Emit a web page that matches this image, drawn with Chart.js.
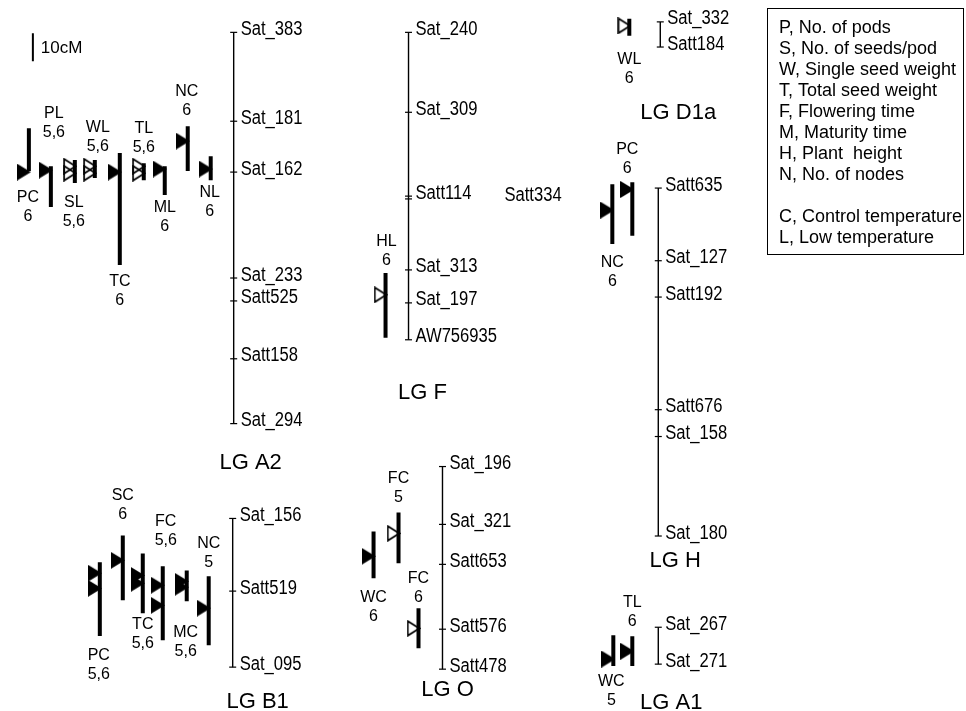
<!DOCTYPE html>
<html>
<head>
<meta charset="utf-8">
<script src="https://cdn.jsdelivr.net/npm/chart.js@4.4.0/dist/chart.umd.min.js"></script>
<style>
  html, body { margin: 0; padding: 0; background: #fff; }
  #wrap { width: 966px; height: 711px; }
</style>
</head>
<body>
<div id="wrap"><canvas id="map"></canvas></div>
<script>
// map scale: 10 cM bar in the corner
const PX_PER_CM = 2.8;

// ---- LG A2
const a2Markers = ['Sat_383', 'Sat_181', 'Sat_162', 'Sat_233', 'Satt525', 'Satt158', 'Sat_294'];
const a2cM = [0, 31.8, 50.0, 87.9, 96.1, 116.8, 140.0];
const a2Traits = ['PC', 'PL', 'SL', 'WL', 'TC', 'TL', 'ML', 'NC', 'NL'];
const a2Years = ['6', '5,6', '5,6', '5,6', '6', '5,6', '6', '6', '6'];
const a2From = [34.3, 47.9, 45.7, 45.7, 43.2, 46.8, 47.9, 33.6, 44.3];
const a2To = [49.6, 62.5, 53.9, 52.1, 83.2, 52.9, 58.2, 49.6, 52.9];
const a2Peaks = [[50.0], [49.3], [47.9, 50.4], [47.9, 50.4], [50.0], [47.9, 50.4], [48.9], [38.9], [48.9]];
const a2Filled = [true, true, false, false, true, false, true, true, true];

// ---- LG F
const fMarkers = ['Sat_240', 'Sat_309', 'Satt114', 'Satt334', 'Sat_313', 'Sat_197', 'AW756935'];
const fcM = [0, 28.6, 58.6, 59.6, 85.0, 96.8, 110.0];
const fTraits = ['HL'];
const fYears = ['6'];
const fFrom = [86.1];
const fTo = [109.3];
const fPeaks = [[93.9]];
const fFilled = [false];

// ---- LG D1a
const d1aMarkers = ['Sat_332', 'Satt184'];
const d1acM = [0, 9.0];
const d1aTraits = ['WL'];
const d1aYears = ['6'];
const d1aFrom = [-1.1];
const d1aTo = [5.0];
const d1aPeaks = [[1.4]];
const d1aFilled = [false];

// ---- LG H
const hMarkers = ['Satt635', 'Sat_127', 'Satt192', 'Satt676', 'Sat_158', 'Sat_180'];
const hcM = [0, 26.0, 39.0, 79.3, 88.9, 124.5];
const hTraits = ['NC', 'PC'];
const hYears = ['6', '6'];
const hFrom = [-1.4, -2.1];
const hTo = [20.0, 17.1];
const hPeaks = [[7.9], [0.5]];
const hFilled = [true, true];

// ---- LG B1
const b1Markers = ['Sat_156', 'Satt519', 'Sat_095'];
const b1cM = [0, 26.0, 53.2];
const b1Traits = ['PC', 'SC', 'TC', 'FC', 'MC', 'NC'];
const b1Years = ['5,6', '6', '5,6', '5,6', '5,6', '5'];
const b1From = [15.7, 6.1, 12.5, 17.1, 18.6, 20.7];
const b1To = [42.1, 29.3, 33.9, 43.6, 29.6, 45.4];
const b1Peaks = [[19.6, 25.0], [15.0], [20.4, 23.2], [23.9, 31.1], [22.5, 24.6], [32.1]];
const b1Filled = [true, true, true, true, true, true];

// ---- LG O
const oMarkers = ['Sat_196', 'Sat_321', 'Satt653', 'Satt576', 'Satt478'];
const ocM = [0, 20.7, 35.0, 58.2, 72.5];
const oTraits = ['FC', 'WC', 'FC'];
const oYears = ['5', '6', '6'];
const oFrom = [16.4, 23.2, 50.7];
const oTo = [34.6, 40.0, 65.0];
const oPeaks = [[23.9], [32.1], [57.9]];
const oFilled = [false, true, false];

// ---- LG A1
const a1Markers = ['Sat_267', 'Sat_271'];
const a1cM = [0, 13.2];
const a1Traits = ['WC', 'TL'];
const a1Years = ['5', '6'];
const a1From = [2.9, 3.2];
const a1To = [13.9, 13.9];
const a1Peaks = [[11.4], [8.6]];
const a1Filled = [true, true];

const legendLines = [
  'P, No. of pods', 'S, No. of seeds/pod', 'W, Single seed weight', 'T, Total seed weight',
  'F, Flowering time', 'M, Maturity time', 'H, Plant  height', 'N, No. of nodes', '',
  'C, Control temperature', 'L, Low temperature'
];

const groups = [
  { id: 'A2', markers: a2Markers, cM: a2cM, traits: a2Traits, years: a2Years, from: a2From, to: a2To, peaks: a2Peaks, filled: a2Filled },
  { id: 'F', markers: fMarkers, cM: fcM, traits: fTraits, years: fYears, from: fFrom, to: fTo, peaks: fPeaks, filled: fFilled },
  { id: 'D1a', markers: d1aMarkers, cM: d1acM, traits: d1aTraits, years: d1aYears, from: d1aFrom, to: d1aTo, peaks: d1aPeaks, filled: d1aFilled },
  { id: 'H', markers: hMarkers, cM: hcM, traits: hTraits, years: hYears, from: hFrom, to: hTo, peaks: hPeaks, filled: hFilled },
  { id: 'B1', markers: b1Markers, cM: b1cM, traits: b1Traits, years: b1Years, from: b1From, to: b1To, peaks: b1Peaks, filled: b1Filled },
  { id: 'O', markers: oMarkers, cM: ocM, traits: oTraits, years: oYears, from: oFrom, to: oTo, peaks: oPeaks, filled: oFilled },
  { id: 'A1', markers: a1Markers, cM: a1cM, traits: a1Traits, years: a1Years, from: a1From, to: a1To, peaks: a1Peaks, filled: a1Filled }
];

// where each linkage group sits on the page (page units of the scales)
const layout = {
  A2: { x: 233, top: 29, title: [250, 460], bars: [28, 50, 74, 94, 119, 143, 164, 187, 210],
        labels: [[27, 195], [53, 110], [73, 200], [97, 124], [119, 279], [143, 125], [164, 205], [186, 88], [209, 190]] },
  F: { x: 408, top: 29, title: [422, 390], bars: [385], labels: [[386, 239]], labelX: { Satt334: 504 } },
  D1a: { x: 660, top: 18.5, title: [678, 110], bars: [629], labels: [[629, 56]] },
  H: { x: 658, top: 185, title: [675, 559], bars: [612, 632], labels: [[612, 260], [627, 146]] },
  B1: { x: 232, top: 516, title: [257, 700], bars: [99, 122, 142, 162, 186, 208],
        labels: [[98, 653], [122, 493], [142, 622], [165, 519], [185, 630], [208, 541]] },
  O: { x: 442, top: 464, title: [447, 688], bars: [398, 373, 418], labels: [[398, 476], [373, 595], [418, 576]] },
  A1: { x: 658, top: 625, title: [671, 701], bars: [613, 632], labels: [[611, 679], [632, 600]] }
};

const yOf = (id, cm) => layout[id].top + cm * PX_PER_CM;

// right-pointing peak triangles, drawn as small canvas images
function makeTriangle(filled) {
  const c = document.createElement('canvas');
  c.width = 14; c.height = 17;
  const g = c.getContext('2d');
  g.beginPath();
  if (filled) {
    g.moveTo(0, 0); g.lineTo(14, 8.5); g.lineTo(0, 17);
    g.closePath();
    g.fillStyle = '#000';
    g.fill();
  } else {
    g.moveTo(1.2, 1.2); g.lineTo(12.8, 8.5); g.lineTo(1.2, 15.8);
    g.closePath();
    g.strokeStyle = '#000';
    g.lineWidth = 1.8;
    g.lineJoin = 'miter';
    g.stroke();
  }
  return c;
}
const triFilled = makeTriangle(true);
const triOpen = makeTriangle(false);

const datasets = [];

// peaks first so they sit on top of the bars
groups.forEach(g => {
  const L = layout[g.id];
  g.traits.forEach((t, i) => {
    const bx = L.bars[i];
    datasets.push({
      data: g.peaks[i].map(p => ({ x: bx - 5, y: yOf(g.id, p) })),
      pointStyle: g.filled[i] ? triFilled : triOpen,
      pointRadius: 8,
      pointHoverRadius: 8
    });
  });
});

// QTL intervals
groups.forEach(g => {
  const L = layout[g.id];
  g.traits.forEach((t, i) => {
    const bx = L.bars[i];
    datasets.push({
      data: [{ x: bx, y: yOf(g.id, g.from[i]) }, { x: bx, y: yOf(g.id, g.to[i]) }],
      showLine: true,
      borderColor: '#000',
      borderWidth: 4,
      borderCapStyle: 'butt',
      pointRadius: 0
    });
  });
});

// linkage groups with marker ticks
groups.forEach(g => {
  const L = layout[g.id];
  datasets.push({
    data: g.cM.map(c => ({ x: L.x, y: yOf(g.id, c) })),
    showLine: true,
    borderColor: '#000',
    borderWidth: 1.4,
    pointStyle: 'line',
    pointRadius: 3.5,
    pointHoverRadius: 3.5,
    pointBorderColor: '#000',
    pointBorderWidth: 1.2
  });
});

// 10 cM scale bar
datasets.push({
  data: [{ x: 32, y: 30 }, { x: 32, y: 30 + 10 * PX_PER_CM }],
  showLine: true,
  borderColor: '#000',
  borderWidth: 2,
  pointRadius: 0
});

const textPlugin = {
  id: 'mapText',
  afterDatasetsDraw(chart) {
    const { ctx, scales: { x, y } } = chart;
    const px = v => x.getPixelForValue(v);
    const py = v => y.getPixelForValue(v);
    ctx.save();
    ctx.fillStyle = '#000';

    // marker names, narrow face
    ctx.font = '20px "Liberation Sans", Arial, sans-serif';
    ctx.textAlign = 'left';
    ctx.textBaseline = 'middle';
    groups.forEach(g => {
      const L = layout[g.id];
      g.markers.forEach((m, i) => {
        const lx = (L.labelX && L.labelX[m]) || L.x + 7;
        ctx.save();
        ctx.translate(px(lx), py(yOf(g.id, g.cM[i]) - 3));
        ctx.scale(0.83, 1);
        ctx.fillText(m, 0, 0);
        ctx.restore();
      });
    });

    // QTL names
    ctx.font = '16px "Liberation Sans", Arial, sans-serif';
    ctx.textAlign = 'center';
    groups.forEach(g => {
      const L = layout[g.id];
      g.traits.forEach((t, i) => {
        const [lx, ly] = L.labels[i];
        ctx.fillText(t, px(lx), py(ly));
        ctx.fillText(g.years[i], px(lx), py(ly + 19));
      });
    });

    // group titles
    ctx.font = '22px "Liberation Sans", Arial, sans-serif';
    groups.forEach(g => {
      const [tx, ty] = layout[g.id].title;
      ctx.fillText('LG ' + g.id, px(tx), py(ty));
    });

    // scale bar label
    ctx.font = '17px "Liberation Sans", Arial, sans-serif';
    ctx.textAlign = 'left';
    ctx.fillText('10cM', px(40), py(45));

    // trait key box (page pixels)
    ctx.strokeStyle = '#000';
    ctx.lineWidth = 1;
    ctx.strokeRect(767.5, 8.5, 196, 246);
    ctx.font = '18px "Liberation Sans", Arial, sans-serif';
    legendLines.forEach((s, i) => {
      ctx.fillText(s, 779, 28 + i * 21);
    });
    ctx.restore();
  }
};

new Chart(document.getElementById('map'), {
  type: 'scatter',
  data: { datasets },
  options: {
    responsive: true,
    maintainAspectRatio: false,
    animation: false,
    clip: false,
    layout: { padding: 0 },
    plugins: { legend: { display: false }, tooltip: { enabled: false } },
    events: [],
    scales: {
      x: { type: 'linear', min: 8.1, max: 957, display: false },
      y: { type: 'linear', min: 5.6, max: 699.9, reverse: true, display: false }
    }
  },
  plugins: [textPlugin]
});
</script>
</body>
</html>
